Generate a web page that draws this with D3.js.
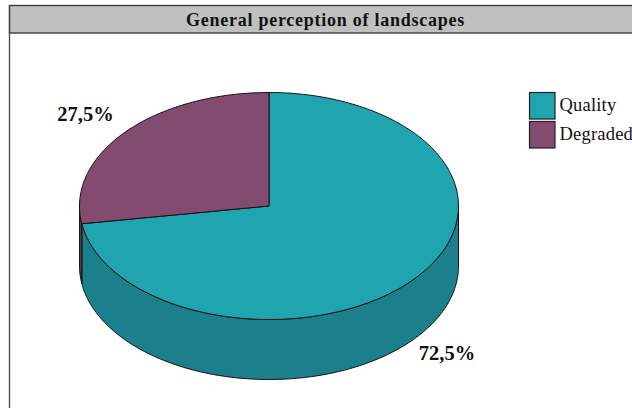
<!DOCTYPE html>
<html>
<head>
<meta charset="utf-8">
<script src="https://cdn.jsdelivr.net/npm/d3@7"></script>
<style>
    html, body { margin: 0; padding: 0; background: white; overflow: hidden; }
    #chart { width: 632px; height: 408px; }
    text { font-family: "Liberation Serif", serif; fill: #111; }
    .title { font-weight: bold; font-size: 18px; letter-spacing: 0.75px; }
    .sliceLabel { font-weight: bold; font-size: 20.5px; }
    .legendLabel { font-size: 18.5px; letter-spacing: 0.2px; }
</style>
</head>
<body>
<div id="chart"></div>
<script>
const titleText = "General perception of landscapes";
const categories = ["Quality", "Degraded"];
const values = [72.5, 27.5];
const valueLabels = ["72,5%", "27,5%"];

const width = 632;
const height = 408;

const svg = d3.select("#chart")
    .append("svg")
    .attr("width", width)
    .attr("height", height);

// Colours
const fillScale = d3.scaleOrdinal().domain(categories).range(["#20a4b0", "#834b6f"]);
const sideScale = d3.scaleOrdinal().domain(categories).range(["#1c808c", "#5f3650"]);

// Frame and title bar
svg.append("rect")
    .attr("x", 9.5).attr("y", 5.5)
    .attr("width", width).attr("height", 27.5)
    .attr("fill", "#c0c0c0")
    .attr("stroke", "#333")
    .attr("stroke-width", 1.3);

svg.append("line")
    .attr("x1", 9.5).attr("x2", 9.5)
    .attr("y1", 5).attr("y2", height)
    .attr("stroke", "#444")
    .attr("stroke-width", 1.3);

svg.append("text")
    .attr("class", "title")
    .attr("x", 325.5)
    .attr("y", 26)
    .attr("text-anchor", "middle")
    .text(titleText);

// Pie, tilted into an ellipse. Angles run clockwise from the top.
const cx = 269, cy = 206, rx = 189.5, ry = 113.5, depth = 60;

const pie = d3.pie().sort(null).value(function(d) { return d.value; });
const slices = pie(categories.map(function(c, i) {
    return {category: c, value: values[i], label: valueLabels[i]};
}));

function px(a) { return cx + rx * Math.sin(a); }
function py(a) { return cy - ry * Math.cos(a); }

const line = d3.line()
    .x(function(d) { return d[0]; })
    .y(function(d) { return d[1]; });

function rimPoints(a0, a1, dy) {
    const n = Math.max(2, Math.ceil((a1 - a0) * 60));
    return d3.range(n + 1).map(function(i) {
        const a = a0 + (a1 - a0) * i / n;
        return [px(a), py(a) + dy];
    });
}

// Side wall: only the front half of the rim shows
const frontStart = Math.PI / 2, frontEnd = Math.PI * 3 / 2;

svg.selectAll("path.side")
    .data(slices)
    .enter()
    .append("path")
        .attr("class", "side")
        .attr("d", function(d) {
            const a0 = Math.max(d.startAngle, frontStart);
            const a1 = Math.min(d.endAngle, frontEnd);
            const top = rimPoints(a0, a1, 0);
            const bottom = rimPoints(a0, a1, depth).reverse();
            return line(top.concat(bottom)) + "Z";
        })
        .attr("fill", function(d) { return sideScale(d.data.category); })
        .attr("stroke", "#111")
        .attr("stroke-width", 1);

// Top face
svg.selectAll("path.top")
    .data(slices)
    .enter()
    .append("path")
        .attr("class", "top")
        .attr("d", function(d) {
            return line([[cx, cy]].concat(rimPoints(d.startAngle, d.endAngle, 0))) + "Z";
        })
        .attr("fill", function(d) { return fillScale(d.data.category); })
        .attr("stroke", "#111")
        .attr("stroke-width", 1)
        .attr("stroke-linejoin", "round");

// Value labels
const labelPos = {"Quality": [447, 360], "Degraded": [85.5, 121]};

svg.selectAll("text.sliceLabel")
    .data(slices)
    .enter()
    .append("text")
        .attr("class", "sliceLabel")
        .attr("x", function(d) { return labelPos[d.data.category][0]; })
        .attr("y", function(d) { return labelPos[d.data.category][1]; })
        .attr("text-anchor", "middle")
        .text(function(d) { return d.data.label; });

// Legend
const legendY = d3.scaleBand().domain(categories).range([92.5, 149]).paddingInner(0.05);

const legend = svg.selectAll("g.legend")
    .data(categories)
    .enter()
    .append("g")
        .attr("class", "legend")
        .attr("transform", function(d) { return `translate(529.5,${legendY(d)})`; });

legend.append("rect")
    .attr("width", 25.5)
    .attr("height", legendY.bandwidth() - 1)
    .attr("fill", function(d) { return fillScale(d); })
    .attr("stroke", "#222")
    .attr("stroke-width", 1.2);

legend.append("text")
    .attr("class", "legendLabel")
    .attr("x", 30)
    .attr("y", 18.5)
    .text(function(d) { return d; });
</script>
</body>
</html>
